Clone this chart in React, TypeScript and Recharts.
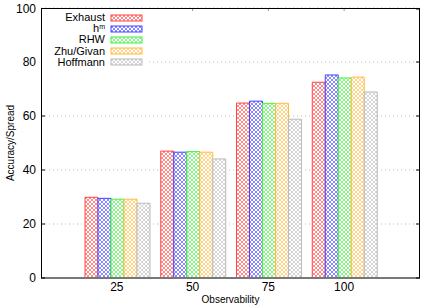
import { BarChart, Bar, XAxis, YAxis, CartesianGrid, Legend } from "recharts";

const categories = ["25", "50", "75", "100"];
const exhaust = [29.9, 47.0, 64.8, 72.5];
const hm = [29.5, 46.6, 65.5, 75.2];
const rhw = [29.2, 46.8, 64.7, 74.1];
const zhuGivan = [29.2, 46.6, 64.7, 74.4];
const hoffmann = [27.7, 44.1, 58.8, 68.9];
const yTicks = [0, 20, 40, 60, 80, 100];

const series = [
    { key: "exhaust", name: "Exhaust", values: exhaust, color: "#f44" },
    { key: "hm", name: "hm", values: hm, color: "#44f" },
    { key: "rhw", name: "RHW", values: rhw, color: "#4e4" },
    { key: "zhu", name: "Zhu/Givan", values: zhuGivan, color: "#fb4" },
    { key: "hoff", name: "Hoffmann", values: hoffmann, color: "#bbb" },
];

const data = categories.map((c, i) => {
    const row: Record<string, string | number> = { name: c };
    series.forEach((s) => (row[s.key] = s.values[i]));
    return row;
});

const FONT = '"Liberation Sans", Arial, sans-serif';

const YTick = (props: any) => {
    const { y, payload } = props;
    return (
        <g>
            <text x={36} y={y} dy={4} textAnchor="end" fontSize={12} fill="#000" fontFamily={FONT}>
                {payload.value}
            </text>
            <line x1={41} x2={45} y1={y} y2={y} stroke="#000" />
            <line x1={416} x2={420} y1={y} y2={y} stroke="#000" />
        </g>
    );
};

const XTick = (props: any) => {
    const { x, payload } = props;
    return (
        <g>
            <text x={x} y={291} textAnchor="middle" fontSize={12} fill="#000" fontFamily={FONT}>
                {payload.value}
            </text>
            <line x1={x} x2={x} y1={8} y2={11} stroke="#999" />
        </g>
    );
};

// legend drawn by hand, gnuplot style: label on the left, swatch on the right
const LegendBox = () => (
    <div style={{ background: "#fff", width: 106, padding: "3px 0", fontFamily: FONT, fontSize: 11 }}>
        {series.map((s, i) => (
            <div key={s.key} style={{ display: "flex", alignItems: "center", height: 11.2 }}>
                <div style={{ width: 63, textAlign: "right", lineHeight: "11px", whiteSpace: "nowrap" }}>
                    {s.key === "hm" ? (
                        <span>
                            h<span style={{ fontSize: 7, position: "relative", top: -3 }}>m</span>
                        </span>
                    ) : (
                        s.name
                    )}
                </div>
                <svg width={34} height={8} style={{ marginLeft: 5 }}>
                    <rect x={1} y={1} width={31} height={6} fill={`url(#pat-${i})`} stroke={s.color} />
                </svg>
            </div>
        ))}
    </div>
);

export default function App() {
    return (
        <div style={{ position: "absolute", left: 0, top: 0, width: 436, height: 305, background: "#fff" }}>
            <BarChart
                width={436}
                height={305}
                data={data}
                margin={{ top: 8, right: 16, bottom: 0, left: 0 }}
                barCategoryGap={6}
                barGap={0}
            >
                <defs>
                    {series.map((s, i) => (
                        <pattern key={s.key} id={`pat-${i}`} patternUnits="userSpaceOnUse" width={4} height={4}>
                            <rect width={4} height={4} fill="#fff" />
                            <path d="M0,0 L4,4 M4,0 L0,4" stroke={s.color} strokeWidth={0.9} strokeOpacity={0.7} />
                        </pattern>
                    ))}
                </defs>
                <CartesianGrid vertical={false} strokeDasharray="1 3" stroke="#bbb" />
                <XAxis
                    dataKey="name"
                    padding={{ left: 38, right: 38 }}
                    height={27}
                    tickLine={false}
                    axisLine={{ stroke: "#777", strokeWidth: 2 }}
                    tick={<XTick />}
                    label={{ value: "Observability", position: "insideBottom", offset: 2, fontSize: 10, fill: "#000", fontFamily: FONT }}
                />
                <YAxis
                    width={41}
                    domain={[0, 100]}
                    ticks={yTicks}
                    axisLine={false}
                    tickLine={false}
                    tick={<YTick />}
                    label={{
                        content: () => (
                            <text x={10} y={143} transform="rotate(-90 10 143)" textAnchor="middle" dominantBaseline="central" fontSize={10} fontFamily={FONT} fill="#000">
                                Accuracy/Spread
                            </text>
                        ),
                    }}
                />
                <Legend
                    layout="vertical"
                    align="center"
                    verticalAlign="middle"
                    content={<LegendBox />}
                    wrapperStyle={{ left: 42, top: 9, width: 106 }}
                />
                {series.map((s, i) => (
                    <Bar
                        key={s.key}
                        dataKey={s.key}
                        name={s.name}
                        fill={`url(#pat-${i})`}
                        stroke={s.color}
                        strokeWidth={1}
                        isAnimationActive={false}
                    />
                ))}
            </BarChart>
            <div
                style={{
                    position: "absolute",
                    left: 41,
                    top: 8,
                    width: 379,
                    height: 270,
                    boxSizing: "border-box",
                    borderLeft: "1px solid #000",
                    borderTop: "1px solid #000",
                    borderRight: "1px solid #000",
                    pointerEvents: "none",
                }}
            />
        </div>
    );
}
